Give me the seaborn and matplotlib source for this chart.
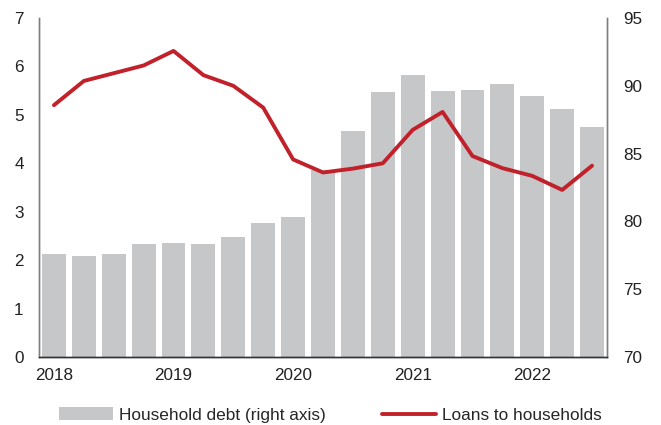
import matplotlib
matplotlib.use("Agg")
import matplotlib.pyplot as plt
import seaborn as sns
import pandas as pd
from matplotlib.patches import Patch
from matplotlib.lines import Line2D

quarters = ["2018Q1", "2018Q2", "2018Q3", "2018Q4",
            "2019Q1", "2019Q2", "2019Q3", "2019Q4",
            "2020Q1", "2020Q2", "2020Q3", "2020Q4",
            "2021Q1", "2021Q2", "2021Q3", "2021Q4",
            "2022Q1", "2022Q2", "2022Q3"]
household_debt = [77.6, 77.45, 77.6, 78.33, 78.38, 78.33, 78.83, 79.86, 80.3, 83.8,
                  86.67, 89.57, 90.77, 89.6, 89.66, 90.16, 89.25, 88.29, 86.94]
loans = [5.20, 5.70, 5.86, 6.02, 6.32, 5.82, 5.60, 5.15, 4.08, 3.81,
         3.89, 4.00, 4.69, 5.06, 4.15, 3.90, 3.74, 3.45, 3.95]
year_labels = ["2018", "2019", "2020", "2021", "2022"]
year_positions = [0, 4, 8, 12, 16]

sns.set_style("white")
plt.rcParams["font.family"] = ["Liberation Sans", "DejaVu Sans"]
plt.rcParams["font.size"] = 12

df = pd.DataFrame({"q": quarters, "debt": household_debt, "loans": loans,
                   "pos": range(len(quarters))})

fig = plt.figure(figsize=(6.61, 4.25), dpi=100)
ax = fig.add_axes([39/661, 1-357/425, (607-39)/661, (357-18)/425])
ax2 = ax.twinx()

bar_color = "#c6c7c9"
line_color = "#c1212b"

sns.barplot(data=df, x="q", y="debt", ax=ax2, color=bar_color, width=0.8,
            saturation=1, edgecolor="none")
sns.lineplot(data=df, x="pos", y="loans", ax=ax, color=line_color, linewidth=2.8)

ax.set_zorder(ax2.get_zorder() + 1)
ax.patch.set_visible(False)

ax.set_xlim(-0.5, len(quarters) - 0.5)
ax2.set_xlim(-0.5, len(quarters) - 0.5)
ax.set_ylim(0, 7)
ax2.set_ylim(70, 95)
ax.set_yticks(range(0, 8))
ax2.set_yticks(range(70, 96, 5))
ax.set_xticks(year_positions)
ax.set_xticklabels(year_labels)
ax2.set_xticks(year_positions)
ax2.set_xticklabels(year_labels)
for a in (ax, ax2):
    a.set_xlabel("")
    a.set_ylabel("")
    a.tick_params(axis="both", length=0, labelsize=12.3, colors="#222222")
    a.spines["top"].set_visible(False)
    for s in ("left", "right", "bottom"):
        a.spines[s].set_color("#7f7f7f")
        a.spines[s].set_linewidth(1.0)
ax.spines["bottom"].set_color("#333333")
ax2.spines["bottom"].set_color("#333333")
ax.tick_params(axis="x", pad=8)
ax.tick_params(axis="y", pad=11)
ax2.tick_params(axis="y", pad=11.5)
ax2.tick_params(axis="x", labelbottom=False)

handles = [Patch(facecolor=bar_color, edgecolor="none"),
           Line2D([0], [0], color=line_color, linewidth=2.8)]
labels = ["Household debt (right axis)", "Loans to households"]
fig.legend(handles, labels, loc="center", bbox_to_anchor=(0.5, 1-415/425), ncol=2,
           frameon=False, handlelength=3.1, handleheight=0.75, handletextpad=0.35,
           columnspacing=3.3, fontsize=12.4)

fig.savefig("out.png", dpi=100)
